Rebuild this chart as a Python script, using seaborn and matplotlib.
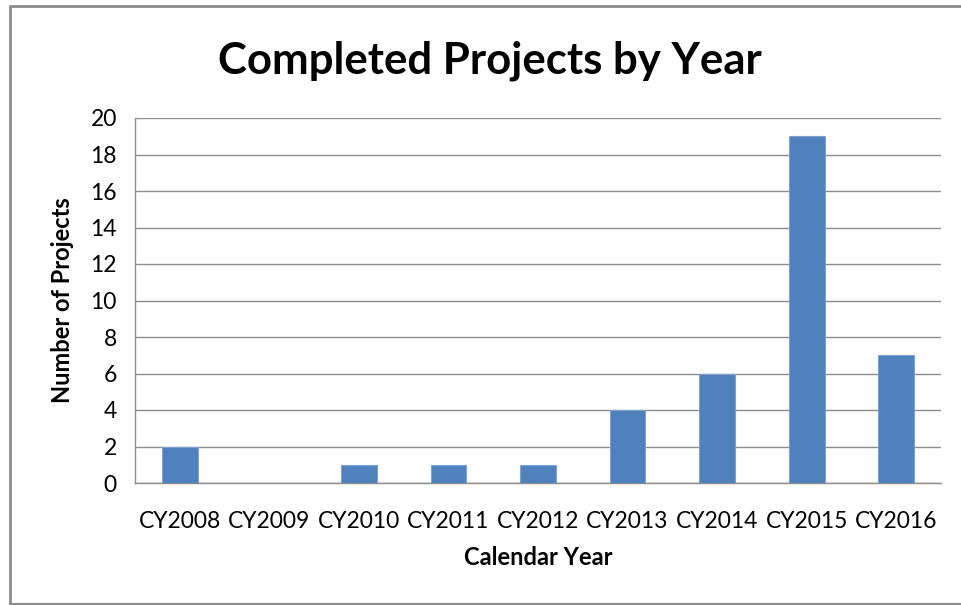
import matplotlib
matplotlib.use("Agg")
import matplotlib.pyplot as plt
import seaborn as sns
import pandas as pd

sns.set_style("white")
plt.rcParams['font.family'] = ['Lato', 'DejaVu Sans']
plt.rcParams['text.color'] = 'black'
plt.rcParams['axes.labelcolor'] = 'black'
plt.rcParams['xtick.color'] = 'black'
plt.rcParams['ytick.color'] = 'black'

years = ['CY2008', 'CY2009', 'CY2010', 'CY2011', 'CY2012',
         'CY2013', 'CY2014', 'CY2015', 'CY2016']
projects = [2, 0, 1, 1, 1, 4, 6, 19, 7]

df = pd.DataFrame({'year': years, 'projects': projects})

fig = plt.figure(figsize=(9.61, 6.05), dpi=100)
ax = fig.add_axes([135 / 961, 1 - 483 / 605, (941 - 135) / 961, (483 - 118) / 605])

sns.barplot(data=df, x='year', y='projects', color='#4F81BD', width=0.4,
            edgecolor='#7FA3D1', linewidth=0.8, saturation=1, ax=ax, zorder=3)

ax.set_ylim(0, 20)
ax.set_yticks(range(0, 21, 2))
ax.set_xlim(-0.5, len(years) - 0.5)
ax.yaxis.grid(True, color='#8C8C8C', linewidth=1, zorder=0)
for s in ['top', 'right']:
    ax.spines[s].set_visible(False)
for s in ['left', 'bottom']:
    ax.spines[s].set_color('#8C8C8C')
    ax.spines[s].set_linewidth(1)

# category boundary ticks like Excel
ax.set_xticks([i - 0.5 for i in range(len(years) + 1)], minor=True)
ax.tick_params(axis='x', which='minor', length=8, color='#8C8C8C', width=1)
ax.tick_params(axis='x', which='major', length=0, labelsize=16.5, pad=20)
ax.tick_params(axis='y', length=9, color='#8C8C8C', width=1, labelsize=16.5, pad=4)
for lab in ax.get_xticklabels() + ax.get_yticklabels():
    lab.set_color('black')

ax.set_xlabel('Calendar Year', fontsize=17, fontweight='bold', labelpad=10)
ax.set_ylabel('Number of Projects', fontsize=17, fontweight='bold', labelpad=12)
fig.text(490 / 961, 1 - 61 / 605, 'Completed Projects by Year', ha='center', va='center',
         fontsize=31.5, fontweight='bold')

# outer chart frame
fig.add_artist(plt.Line2D([10 / 961, 10 / 961], [1 - 6 / 605, 1 - 604 / 605],
                          color='#8C8C8C', linewidth=2, transform=fig.transFigure))
fig.add_artist(plt.Line2D([10 / 961, 1], [1 - 6 / 605, 1 - 6 / 605],
                          color='#8C8C8C', linewidth=2, transform=fig.transFigure))
fig.add_artist(plt.Line2D([10 / 961, 1], [1 - 604 / 605, 1 - 604 / 605],
                          color='#8C8C8C', linewidth=1.5, transform=fig.transFigure))

fig.savefig('out.png', dpi=100, facecolor='white')
